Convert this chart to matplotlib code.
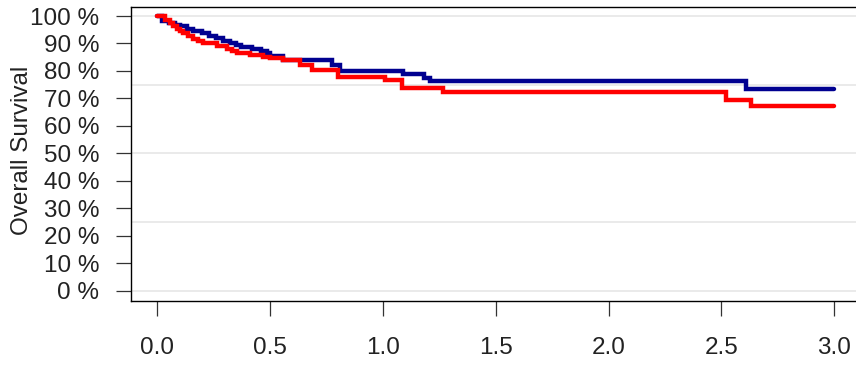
import matplotlib
matplotlib.use("Agg")
import matplotlib.pyplot as plt
from matplotlib.ticker import FuncFormatter

# Blue group: event times (years) and survival (%) after each event
blue_t = [0, 0.02, 0.05, 0.08, 0.10, 0.13, 0.16, 0.20, 0.23, 0.26, 0.29, 0.32,
          0.35, 0.37, 0.42, 0.46, 0.485, 0.50, 0.557, 0.773, 0.81, 1.089, 1.18,
          1.21, 2.608]
blue_s = [100, 98.3, 97.5, 96.9, 96.4, 95.3, 94.6, 93.7, 92.8, 91.9, 91.0, 90.1,
          89.3, 88.6, 88.0, 87.4, 86.5, 85.5, 84.0, 82.1, 80.1, 78.8, 77.3,
          76.3, 73.5]

# Red group
red_t = [0, 0.034, 0.056, 0.07, 0.086, 0.10, 0.114, 0.135, 0.158, 0.18, 0.203,
         0.263, 0.308, 0.33, 0.352, 0.411, 0.469, 0.50, 0.557, 0.633, 0.686,
         0.80, 1.009, 1.083, 1.267, 2.52, 2.63]
red_s = [100, 98.5, 97.3, 96.2, 95.2, 94.5, 93.9, 92.7, 91.5, 90.8, 90.1,
         89.1, 87.9, 87.2, 86.6, 85.8, 85.2, 84.8, 84.0, 82.2, 80.3,
         77.9, 76.7, 73.9, 72.5, 69.6, 67.4]

end_time = 3.0
x_ticks = [0.0, 0.5, 1.0, 1.5, 2.0, 2.5, 3.0]
y_ticks = [0, 10, 20, 30, 40, 50, 60, 70, 80, 90, 100]
grid_levels = [0, 25, 50, 75, 100]
y_label = "Overall Survival"

plt.rcParams['font.family'] = ['Liberation Sans', 'DejaVu Sans']

W, H = 856, 366
fig = plt.figure(figsize=(W / 100, H / 100), dpi=100)
ax = fig.add_axes([130.7 / W, (H - 301) / H, (W - 130.7) / W, (301 - 6.5) / H])

for g in grid_levels:
    ax.axhline(g, color='#E6E6E6', lw=1.2, zorder=0)

def stepline(t, s, color):
    tt = list(t) + [end_time]
    ss = list(s) + [s[-1]]
    ax.step(tt, ss, where='post', color=color, lw=3.2,
            solid_capstyle='round', solid_joinstyle='miter', zorder=3)

stepline(blue_t, blue_s, '#000090')
stepline(red_t, red_s, '#FF0000')

ax.set_xlim(-0.118, 3.097)
ax.set_ylim(-3.75, 103.46)
ax.set_xticks(x_ticks)
ax.set_xticklabels([f"{v:.1f}" for v in x_ticks])
ax.set_yticks(y_ticks)
ax.yaxis.set_major_formatter(FuncFormatter(lambda v, p: f"{int(v)} %"))

ax.spines['right'].set_visible(False)
for sp in ['left', 'top', 'bottom']:
    ax.spines[sp].set_linewidth(1.0)
    ax.spines[sp].set_color('black')

ax.tick_params(axis='both', direction='out', length=10.8, width=0.9,
               color='#333333', labelsize=17.5, labelcolor='#222222')
ax.tick_params(axis='y', pad=12)
ax.tick_params(axis='x', pad=15)

fig.text(22 / W, (H - 150) / H, y_label, rotation=90, ha='center', va='center',
         fontsize=17.5, color='#222222')

fig.savefig("out.png", dpi=100)
